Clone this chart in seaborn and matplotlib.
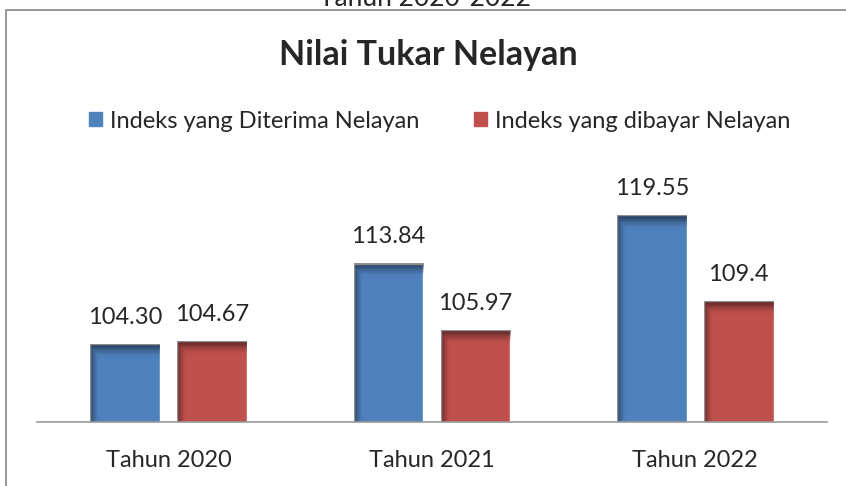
import seaborn as sns
import numpy as np
import matplotlib.pyplot as plt
import matplotlib.patches as mpatches
import pandas as pd

# data
years = ['Tahun 2020', 'Tahun 2021', 'Tahun 2022']
diterima = [104.30, 113.84, 119.55]
dibayar = [104.67, 105.97, 109.4]
label_diterima = ['104.30', '113.84', '119.55']
label_dibayar = ['104.67', '105.97', '109.4']
series = ['Indeks yang Diterima Nelayan', 'Indeks yang dibayar Nelayan']
colors = ['#4F81BD', '#C0504D']

df = pd.DataFrame({
    'tahun': years * 2,
    'nilai': diterima + dibayar,
    'seri': [series[0]] * 3 + [series[1]] * 3,
})

sns.set_style("white")
plt.rcParams['font.family'] = ['Lato', 'DejaVu Sans']

fig = plt.figure(figsize=(8.46, 4.86), dpi=100)
ax = fig.add_axes([0.0437, 0.1317, 0.9338, 0.52])

sns.barplot(data=df, x='tahun', y='nilai', hue='seri', palette=colors,
            saturation=1, width=0.66, gap=0.2,
            ax=ax, legend=False, errorbar=None)

ymin, ymax = 95.12, 125
ax.set_xlabel('')
ax.set_ylabel('')
ax.set_yticks([])
sns.despine(ax=ax, left=True, top=True, right=True)
ax.spines['bottom'].set_color('#999999')
ax.spines['bottom'].set_linewidth(1.2)
ax.tick_params(axis='x', length=0, labelsize=17, pad=20)

# bevel-like shading on left and top edges of each bar
upx = (ymax - ymin) / (0.52 * 486)  # data units per pixel
for p in ax.patches:
    x0, y0 = p.get_x(), p.get_y()
    w, h = p.get_width(), p.get_height()
    nx, ny = 80, 200
    xs = np.linspace(0, 1, nx)
    ys = np.linspace(0, h / upx, ny)  # pixel distance from top
    a_left = np.clip(1 - xs / 0.13, 0, 1) ** 1.5 * 0.45
    a_top = np.clip(1 - ys / 11, 0, 1) ** 1.5 * 0.45
    alpha = np.maximum(a_left[None, :], a_top[:, None])
    img = np.zeros((ny, nx, 4))
    img[..., 3] = alpha
    ax.imshow(img, extent=(x0, x0 + w, y0, y0 + h), origin='upper',
              aspect='auto', zorder=p.get_zorder() + 0.1, interpolation='bilinear')

ax.set_ylim(ymin, ymax)
ax.set_xlim(-0.5, 2.5)

# data labels
for cont, labs in zip(ax.containers, [label_diterima, label_dibayar]):
    ax.bar_label(cont, labels=labs, padding=12, fontsize=17)

# title and cut-off heading
fig.text(0.506, 0.886, 'Nilai Tukar Nelayan', ha='center', va='center',
         fontsize=24.5, fontweight='bold')
fig.text(0.502, 0.988, 'Tahun 2020-2022', ha='center', va='baseline',
         fontsize=19)

# legend
handles = [mpatches.Patch(color=c) for c in colors]
fig.legend(handles, series, loc='center', bbox_to_anchor=(0.52, 0.751),
           ncol=2, frameon=False, fontsize=17, handlelength=0.55,
           handleheight=0.55, handletextpad=0.35, columnspacing=2.3)

# chart frame
fig.patches.append(mpatches.Rectangle((0.007, -0.1), 1.1, 1.079,
                                      transform=fig.transFigure,
                                      fill=False, edgecolor='#888888',
                                      linewidth=1.2))

fig.savefig('out.png', dpi=100)
